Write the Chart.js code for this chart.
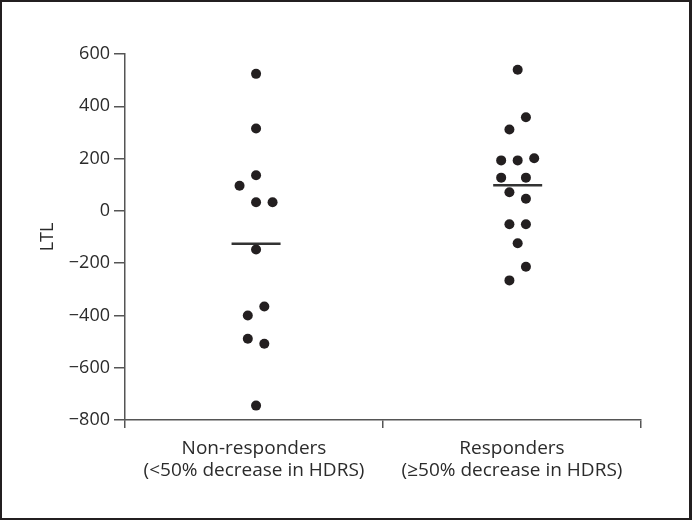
<!DOCTYPE html>
<html>
<head>
<meta charset="utf-8">
<script src="https://cdn.jsdelivr.net/npm/chart.js@4/dist/chart.umd.min.js"></script>
<style>
  html, body { margin: 0; padding: 0; background: #fff; }
  #wrap { position: relative; width: 692px; height: 520px; }
  #chart { position: absolute; left: 0; top: 0; }
  #frame {
    position: absolute; left: 0; top: 0; width: 692px; height: 520px;
    box-sizing: border-box; border: 2px solid #231f20; border-right-width: 3px;
    pointer-events: none;
  }
</style>
</head>
<body>
<div id="wrap">
  <canvas id="chart" width="692" height="520"></canvas>
  <div id="frame"></div>
</div>
<script>
const categories = [
  ["Non-responders", "(<50% decrease in HDRS)"],
  ["Responders", "(\u226550% decrease in HDRS)"],
];
const yTicks = [600, 400, 200, 0, -200, -400, -600, -800];

const nonResponders = [524, 315, 136, 96, 33, 33, -148, -366, -400, -489, -508, -745];
const nonRespSlots = [0, 0, 0, -2, 0, 2, 0, 1, -1, -1, 1, 0];
const responders = [540, 358, 311, 193, 193, 201, 127, 127, 71, 46, -51, -51, -124, -214, -266];
const respSlots = [0, 1, -1, -2, 0, 2, -2, 1, -1, 1, -1, 1, 0, 1, -1];
const groupMeans = [-126, 98];

const centers = [0.508, 1.522];
const slotWidth = 0.032;
const ink = "#231f20";
const axisColor = "#555";
const textColor = "#2b2b2b";

function dots(values, slots, g) {
  return values.map((v, i) => ({ x: centers[g] + slots[i] * slotWidth, y: v }));
}

Chart.defaults.font.family = "'Open Sans', sans-serif";
Chart.defaults.font.size = 18;
Chart.defaults.color = textColor;

new Chart(document.getElementById("chart").getContext("2d"), {
  type: "scatter",
  data: {
    datasets: [
      {
        data: dots(nonResponders, nonRespSlots, 0),
        backgroundColor: ink, borderColor: ink, pointRadius: 5, borderWidth: 0,
      },
      {
        data: dots(responders, respSlots, 1),
        backgroundColor: ink, borderColor: ink, pointRadius: 5, borderWidth: 0,
      },
      {
        data: groupMeans.map((m, g) => ({ x: centers[g], y: m })),
        pointStyle: "line", pointRadius: 24.5, borderWidth: 2.5,
        borderColor: "#333", backgroundColor: "#333",
      },
    ],
  },
  options: {
    responsive: false,
    animation: false,
    events: [],
    layout: { padding: { top: 54, right: 51, left: 0, bottom: 0 } },
    plugins: { legend: { display: false }, tooltip: { enabled: false } },
    scales: {
      x: {
        type: "linear",
        min: 0,
        max: 2,
        position: "bottom",
        weight: 0,
        ticks: { stepSize: 1, callback: () => "", padding: 0 },
        grid: { drawOnChartArea: false, drawTicks: true, tickLength: 8, color: axisColor, lineWidth: 1.5 },
        border: { color: axisColor, width: 1.5 },
        afterFit: (s) => { s.height = 10; },
      },
      xCat: {
        type: "category",
        labels: categories,
        position: "bottom",
        weight: 1,
        offset: true,
        grid: { display: false },
        border: { display: false },
        ticks: { padding: 0, font: { size: 19, lineHeight: 1.15 }, color: textColor, maxRotation: 0 },
        afterFit: (s) => { s.height = 90; },
      },
      y: {
        min: -800,
        max: 600,
        afterBuildTicks: (s) => { s.ticks = yTicks.map((v) => ({ value: v })); },
        ticks: {
          padding: 4,
          callback: (v) => String(v).replace("-", "\u2212"),
        },
        grid: { drawOnChartArea: false, drawTicks: true, tickLength: 11, color: axisColor, lineWidth: 1.5 },
        border: { color: axisColor, width: 1.5 },
        title: { display: true, text: "LTL", padding: { top: 37, bottom: 0 }, font: { size: 18 } },
        afterFit: (s) => { s.width = 125; },
      },
    },
  },
});
</script>
</body>
</html>
